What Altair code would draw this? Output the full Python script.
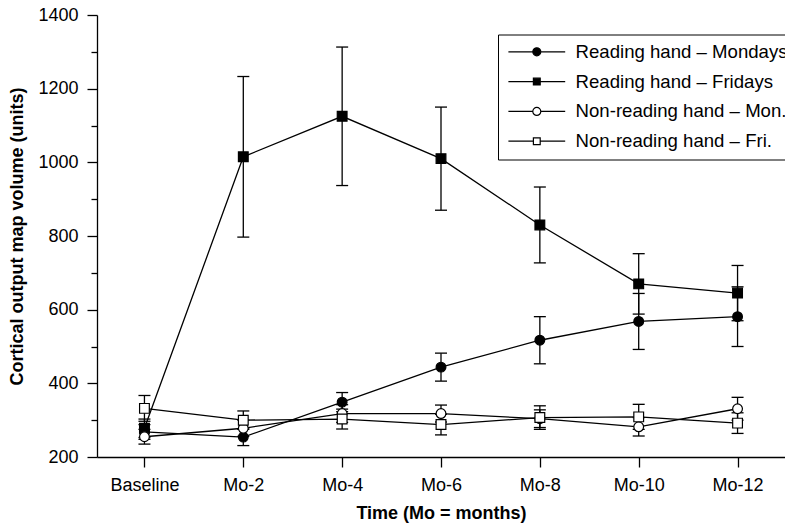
import altair as alt
import pandas as pd

# ---- data ----
times = [0, 2, 4, 6, 8, 10, 12]
time_labels = ["Baseline", "Mo-2", "Mo-4", "Mo-6", "Mo-8", "Mo-10", "Mo-12"]
series_names = [
    "Reading hand – Mondays",
    "Reading hand – Fridays",
    "Non-reading hand – Mon.",
    "Non-reading hand – Fri.",
]
rd_mon = [268, 254, 349, 444, 517, 568, 581]
rd_mon_err = [20, 23, 26, 38, 64, 76, 81]
rd_fri = [278, 1015, 1125, 1010, 830, 670, 645]
rd_fri_err = [25, 218, 188, 140, 103, 82, 75]
nr_mon = [255, 278, 318, 318, 304, 282, 331]
nr_mon_err = [20, 22, 24, 23, 24, 25, 31]
nr_fri = [332, 300, 303, 288, 307, 309, 292]
nr_fri_err = [35, 25, 27, 28, 32, 34, 28]

y_major = [200, 400, 600, 800, 1000, 1200, 1400]
y_minor = [300, 500, 700, 900, 1100, 1300]

series_fill = ["black", "black", "white", "white"]
series_shape = ["circle", "square", "circle", "square"]
# legend symbols: a line with the marker in the middle (unit coordinates)
circ = "M-1,0A1,1,0,1,0,1,0A1,1,0,1,0,-1,0Z"
sq = "M-0.85,-0.85H0.85V0.85H-0.85Z"
legend_paths = [
    "M-7.1,0H-1M1,0H7.1" + circ,
    "M-7.1,0H-0.85M0.85,0H7.1" + sq,
    "M-7.1,0H-1M1,0H7.1" + circ,
    "M-7.1,0H-0.85M0.85,0H7.1" + sq,
]

records = []
for name, vals, errs in zip(series_names, [rd_mon, rd_fri, nr_mon, nr_fri],
                            [rd_mon_err, rd_fri_err, nr_mon_err, nr_fri_err]):
    for t, v, e in zip(times, vals, errs):
        records.append({"series": name, "t": t, "value": v, "lo": v - e, "hi": v + e})
df = pd.DataFrame(records)

label_expr = " : ".join(f"datum.value == {t} ? '{l}'" for t, l in zip(times, time_labels)) + " : ''"

x_scale = alt.Scale(domain=[-0.96, 12.96], nice=False, zero=False)
x_axis = alt.Axis(values=times, labelExpr=label_expr, title="Time (Mo = months)",
                  tickSize=10, labelPadding=9, titlePadding=10)
y_scale = alt.Scale(domain=[200, 1400], nice=False, zero=False)
y_axis_major = alt.Axis(values=y_major, format="d", tickSize=10, labelPadding=9, orient="left",
                        title="Cortical output map volume (units)", titlePadding=11)
y_axis_minor = alt.Axis(values=y_minor, tickSize=6, labels=False, domain=False,
                        orient="left", title=None)

base = alt.Chart(df)
X = alt.X("t:Q", scale=x_scale, axis=x_axis)

lines = base.mark_line(color="black", strokeWidth=1.3).encode(
    x=X,
    y=alt.Y("value:Q", scale=y_scale, axis=y_axis_major),
    detail="series:N",
)

bars = base.mark_rule(color="black", strokeWidth=1.3).encode(
    x=X,
    y=alt.Y("lo:Q", scale=y_scale, axis=y_axis_minor),
    y2="hi:Q",
)

cap_lo = base.mark_rule(color="black", strokeWidth=1.3, xOffset=-6, x2Offset=6).encode(
    x=X, x2="t:Q", y=alt.Y("lo:Q", scale=y_scale, axis=None)
)
cap_hi = base.mark_rule(color="black", strokeWidth=1.3, xOffset=-6, x2Offset=6).encode(
    x=X, x2="t:Q", y=alt.Y("hi:Q", scale=y_scale, axis=None)
)

points = base.mark_point(filled=True, stroke="black", strokeWidth=1.2, size=95, opacity=1).encode(
    x=X,
    y=alt.Y("value:Q", scale=y_scale, axis=None),
    shape=alt.Shape("series:N", scale=alt.Scale(domain=series_names, range=series_shape), legend=None),
    fill=alt.Fill("series:N", scale=alt.Scale(domain=series_names, range=series_fill), legend=None),
)

leg = alt.Legend(
    title=None, orient="none", legendX=401, legendY=19.5,
    padding=8, strokeColor="black", fillColor="white", cornerRadius=0,
    labelFont="Liberation Sans", labelFontSize=18.6, labelColor="black", labelLimit=0,
    symbolSize=64, symbolOffset=21.5, labelOffset=29.5, rowPadding=10.8,
    symbolStrokeWidth=1.2, symbolOpacity=1,
)

legend_layer = base.mark_point(filled=True, opacity=0, stroke="black", strokeWidth=1.2).encode(
    x=X,
    y=alt.Y("value:Q", scale=y_scale, axis=None),
    shape=alt.Shape("series:N", scale=alt.Scale(domain=series_names, range=legend_paths), legend=leg),
    fill=alt.Fill("series:N", scale=alt.Scale(domain=series_names, range=series_fill), legend=leg),
)

chart = (
    alt.layer(lines, bars, cap_lo, cap_hi, points, legend_layer)
    .resolve_axis(y="independent")
    .resolve_scale(shape="independent", fill="independent")
    .properties(
        width=688, height=442,
        autosize=alt.AutoSizeParams(type="none"),
        padding={"left": 97, "top": 15, "right": 0, "bottom": 66},
        background="white",
    )
    .configure_view(stroke=None)
    .configure_axis(
        grid=False,
        labelFont="Liberation Sans", labelFontSize=18, labelColor="black",
        titleFont="Liberation Sans", titleFontSize=18, titleFontWeight="bold", titleColor="black",
        domainColor="black", domainWidth=1.3, tickColor="black", tickWidth=1.3,
    )
)

chart.save("out.html", embed_options={"renderer": "svg", "actions": False})
